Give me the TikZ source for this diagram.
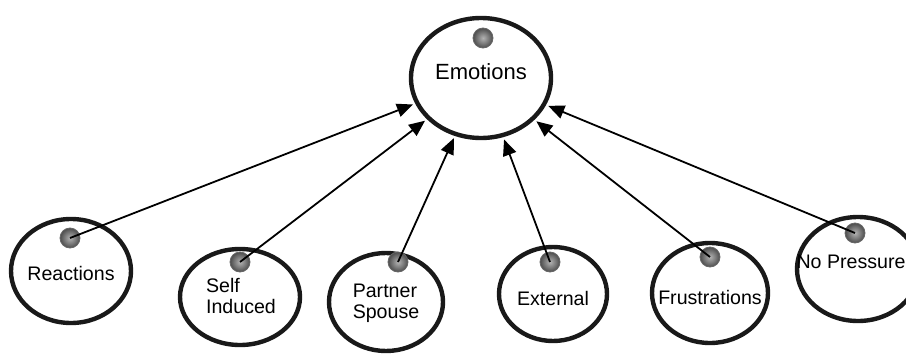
\documentclass[tikz,border=0pt]{standalone}
\usepackage{fontspec}
\setmainfont{Liberation Sans}
\usetikzlibrary{arrows.meta,shapes.geometric}

\begin{document}
\begin{tikzpicture}[x=0.5pt,y=-0.5pt,
bubble/.style={draw=black!90,line width=2.2pt,ellipse,inner sep=0pt},
dot/.style={circle,inner sep=0pt,minimum size=10pt,draw=black!60,line width=0.4pt,
  inner color=gray!60,outer color=black!70},
lbl/.style={font=\fontsize{9.8}{10.5}\selectfont,inner sep=0pt},
link/.style={line width=0.9pt,shorten >=1.2pt,-{Triangle[length=8pt,width=6.8pt]}}]
\useasboundingbox (0,0) rectangle (906,354);
\clip (0,0) rectangle (906,354);
% top ellipse
\node[bubble,minimum width=70pt,minimum height=60pt] (emo) at (481,78) {};
\node[lbl,font=\fontsize{11}{12}\selectfont] (emo-t) at (481,72) {Emotions};
\node[dot] (emo-d) at (483,38) {};
% bottom ellipses
\node[bubble,minimum width=60pt,minimum height=52pt] (react) at (71,271) {};
\node[lbl] (react-t) at (71,273) {Reactions};
\node[dot] (react-d) at (70,238) {};
\node[bubble,minimum width=60pt,minimum height=48pt] (self) at (240,297) {};
\node[lbl,align=left] (self-t) at (241,296) {Self\\Induced};
\node[dot] (self-d) at (240,262) {};
\node[bubble,minimum width=57pt,minimum height=49pt] (part) at (386,302) {};
\node[lbl,align=left] (part-t) at (386,303) {Partner\\Spouse};
\node[dot] (part-d) at (398,262) {};
\node[bubble,minimum width=54pt,minimum height=47pt] (ext) at (553,294) {};
\node[lbl] (ext-t) at (553,298) {External};
\node[dot] (ext-d) at (550,262) {};
\node[bubble,minimum width=58pt,minimum height=50pt] (frus) at (710,293) {};
\node[lbl] (frus-t) at (710,297) {Frustrations};
\node[dot] (frus-d) at (710,257) {};
\node[bubble,minimum width=61pt,minimum height=52pt] (nop) at (858,269) {};
\node[lbl] (nop-t) at (851,262) {No Pressure};
\node[dot] (nop-d) at (855,233) {};
% links
\draw[link] (react-d.center)--(emo);
\draw[link] (self-d.center)--(emo);
\draw[link] (part-d.center)--(emo);
\draw[link] (ext-d.center)--(emo);
\draw[link] (frus-d.center)--(emo);
\draw[link] (nop-d.center)--(emo);
\end{tikzpicture}
\end{document}
